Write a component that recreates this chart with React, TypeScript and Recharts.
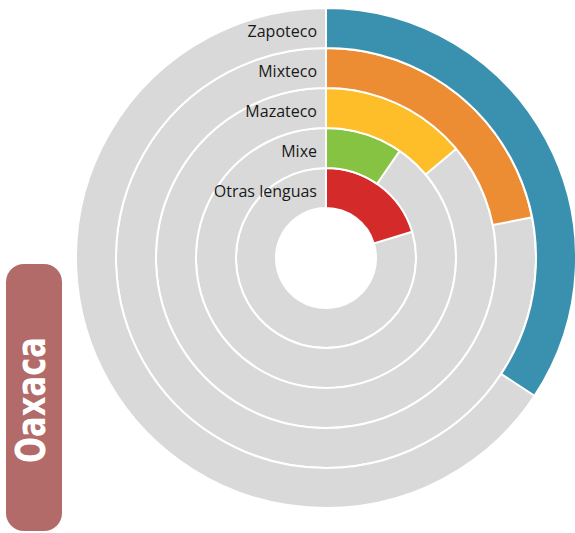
import { RadialBarChart, RadialBar, PolarAngleAxis, PolarRadiusAxis, Cell } from "recharts"

const lenguas = ["Otras lenguas", "Mixe", "Mazateco", "Mixteco", "Zapoteco"]
const porcentajes = [20.3, 9.6, 13.9, 21.9, 34.3]
const colores = ["#D42A2A", "#86C343", "#FDBE29", "#EC8C33", "#3A90AF"]

const data = lenguas.map((name, i) => ({ name, value: porcentajes[i] }))

const LabelTick = (props: any) => {
  const { x, y, payload } = props
  return (
    <text
      x={x - 9}
      y={y + 3}
      textAnchor="end"
      dominantBaseline="central"
      fontFamily="Open Sans"
      fontSize={16}
      fill="#1a1a1a"
    >
      {payload.value}
    </text>
  )
}

export default function App() {
  return (
    <div style={{ position: "absolute", left: 0, top: 0, width: 575, height: 533, background: "#fff" }}>
      <RadialBarChart
        width={575}
        height={533}
        cx={326}
        cy={258}
        innerRadius={50}
        outerRadius={250}
        startAngle={90}
        endAngle={-270}
        data={data}
        barCategoryGap={0}
        margin={{ top: 0, right: 0, bottom: 0, left: 0 }}
      >
        <PolarAngleAxis type="number" domain={[0, 100]} tick={false} axisLine={false} />
        <RadialBar
          dataKey="value"
          isAnimationActive={false}
          stroke="#fff"
          strokeWidth={2}
          background={{ fill: "#D9D9D9", stroke: "#fff", strokeWidth: 2 }}
        >
          {data.map((d, i) => (
            <Cell key={d.name} fill={colores[i]} />
          ))}
        </RadialBar>
        <PolarRadiusAxis
          type="category"
          dataKey="name"
          angle={90}
          axisLine={false}
          tickLine={false}
          tick={<LabelTick />}
        />
      </RadialBarChart>
      <svg width={70} height={533} style={{ position: "absolute", left: 0, top: 0 }}>
        <rect x={6} y={264} width={56} height={267} rx={18} fill="#B26B69" />
        <text
          x={0}
          y={0}
          transform="translate(45 400) rotate(-90)"
          textAnchor="middle"
          fontFamily="DejaVu Sans"
          fontWeight="bold"
          fontSize={40}
          textLength={126}
          lengthAdjust="spacingAndGlyphs"
          fill="#fff"
        >
          Oaxaca
        </text>
      </svg>
    </div>
  )
}
